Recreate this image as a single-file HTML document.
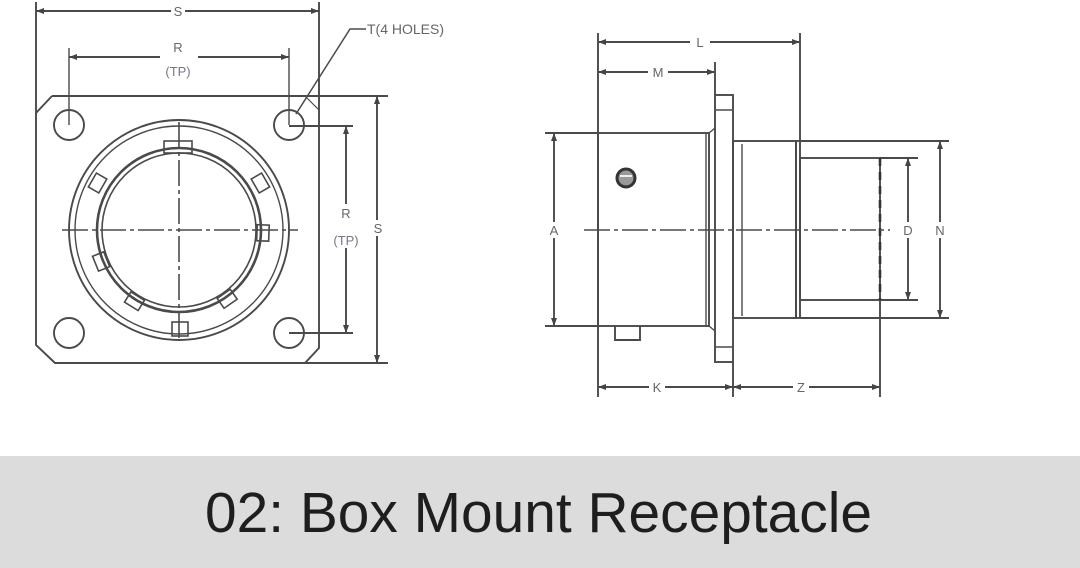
<!DOCTYPE html>
<html><head><meta charset="utf-8"><style>
html,body{margin:0;padding:0;background:#fff;}
svg{display:block;}
</style></head><body>
<svg width="1080" height="568" viewBox="0 0 1080 568" xmlns="http://www.w3.org/2000/svg">
<defs>
<marker id="ar" markerWidth="8" markerHeight="6" refX="8" refY="3" orient="auto-start-reverse" markerUnits="userSpaceOnUse">
<path d="M0,0 L8,3 L0,6 z" fill="#444"/></marker>
</defs>
<rect x="0" y="0" width="1080" height="456" fill="#fff"/>
<g stroke="#4a4a4a" stroke-width="1.9" fill="none">
<!-- LEFT VIEW -->
<path d="M52,96 L388,96"/>
<path d="M36,2 L36,113 L52,96"/>
<path d="M36,113 L36,345 L55,363 L305,363 L319,348 L319,2"/>
<path d="M305,96 L319,110" stroke-width="1.2"/>
<line x1="295" y1="363" x2="388" y2="363"/>
<line x1="36" y1="11" x2="319" y2="11" marker-start="url(#ar)" marker-end="url(#ar)"/>
<line x1="69" y1="57" x2="289" y2="57" marker-start="url(#ar)" marker-end="url(#ar)"/>
<line x1="69" y1="48" x2="69" y2="125" stroke-width="1.4"/>
<line x1="289" y1="48" x2="289" y2="125" stroke-width="1.4"/>
<line x1="377" y1="96" x2="377" y2="363" marker-start="url(#ar)" marker-end="url(#ar)"/>
<line x1="346" y1="126" x2="346" y2="333" marker-start="url(#ar)" marker-end="url(#ar)"/>
<line x1="289" y1="126" x2="353" y2="126"/>
<line x1="289" y1="333" x2="353" y2="333"/>
<circle cx="69" cy="125" r="15"/><circle cx="289" cy="125" r="15"/>
<circle cx="69" cy="333" r="15"/><circle cx="289" cy="333" r="15"/>
<path d="M296,114 L350,29 L366,29" stroke-width="1.5"/>
<circle cx="179" cy="230" r="110"/>
<circle cx="179" cy="230" r="104" stroke-width="1.4"/>
<circle cx="179" cy="230" r="82" stroke-width="2.6"/>
<circle cx="179" cy="230" r="77" stroke-width="1.6"/>
<g stroke-width="1.6">
<rect x="164" y="141" width="28" height="12"/>
<rect x="172" y="322" width="16" height="14"/>
<rect x="171" y="130" width="16" height="12" transform="rotate(60 179 230)"/>
<rect x="171" y="130" width="16" height="12" transform="rotate(-60 179 230)"/>
<rect x="171" y="140" width="16" height="12" transform="rotate(92 179 230)"/>
<rect x="171" y="140" width="16" height="12" transform="rotate(-112 179 230)"/>
<rect x="171" y="140" width="16" height="12" transform="rotate(145 179 230)"/>
<rect x="171" y="140" width="16" height="12" transform="rotate(-148 179 230)"/>
</g>
<line x1="62" y1="230" x2="298" y2="230" stroke-dasharray="26,4,4,4" stroke-width="1.6"/>
<line x1="179" y1="122" x2="179" y2="342" stroke-dasharray="26,4,4,4" stroke-width="1.6"/>

<!-- RIGHT VIEW -->
<line x1="598" y1="33" x2="598" y2="397"/>
<line x1="800" y1="33" x2="800" y2="141"/>
<line x1="598" y1="42" x2="800" y2="42" marker-start="url(#ar)" marker-end="url(#ar)"/>
<line x1="598" y1="72" x2="715" y2="72" marker-start="url(#ar)" marker-end="url(#ar)"/>
<line x1="715" y1="62" x2="715" y2="95"/>
<rect x="598" y="133" width="111" height="193"/>
<line x1="706" y1="133" x2="706" y2="326" stroke-width="1.4"/>
<rect x="715" y="95" width="18" height="267"/>
<line x1="715" y1="110" x2="733" y2="110" stroke-width="1.4"/>
<line x1="715" y1="347" x2="733" y2="347" stroke-width="1.4"/>
<line x1="709" y1="133" x2="715" y2="128" stroke-width="1.4"/>
<line x1="709" y1="326" x2="715" y2="331" stroke-width="1.4"/>
<rect x="733" y="141" width="63" height="177"/>
<line x1="742" y1="144" x2="742" y2="316" stroke-width="1.4"/>
<rect x="796" y="141" width="4" height="177"/>
<rect x="800" y="158" width="80" height="142"/>
<line x1="800" y1="141" x2="949" y2="141"/>
<line x1="800" y1="318" x2="949" y2="318"/>
<line x1="880" y1="158" x2="918" y2="158"/>
<line x1="880" y1="300" x2="918" y2="300"/>
<line x1="880" y1="158" x2="880" y2="300" stroke-width="2.6" stroke-dasharray="8,6" stroke="#333"/>
<line x1="880" y1="300" x2="880" y2="397"/>
<line x1="733" y1="362" x2="733" y2="397"/>
<line x1="545" y1="133" x2="598" y2="133"/>
<line x1="545" y1="326" x2="598" y2="326"/>
<line x1="554" y1="133" x2="554" y2="326" marker-start="url(#ar)" marker-end="url(#ar)"/>
<line x1="908" y1="158" x2="908" y2="300" marker-start="url(#ar)" marker-end="url(#ar)"/>
<line x1="940" y1="141" x2="940" y2="318" marker-start="url(#ar)" marker-end="url(#ar)"/>
<line x1="598" y1="387" x2="733" y2="387" marker-start="url(#ar)" marker-end="url(#ar)"/>
<line x1="733" y1="387" x2="880" y2="387" marker-start="url(#ar)" marker-end="url(#ar)"/>
<circle cx="626" cy="178" r="9" stroke-width="3" stroke="#333" fill="#999"/>
<path d="M620,176 h12" stroke-width="2" stroke="#eee"/>
<path d="M615,326 v14 h25 v-14"/>
<line x1="584" y1="230" x2="890" y2="230" stroke-dasharray="26,4,4,4" stroke-width="1.6"/>
</g>
<g font-family="'Liberation Sans',sans-serif" font-size="13" fill="#666" text-anchor="middle">
<rect x="171" y="4" width="14" height="14" fill="#fff"/><text x="178" y="16">S</text>
<rect x="160" y="40" width="38" height="36" fill="#fff"/>
<text x="178" y="52">R</text><text x="178" y="76" fill="#778">(TP)</text>
<rect x="330" y="204" width="32" height="44" fill="#fff"/>
<text x="346" y="218">R</text><text x="346" y="245" fill="#778">(TP)</text>
<rect x="371" y="220" width="12" height="16" fill="#fff"/><text x="378" y="233">S</text>
<text x="367" y="34" text-anchor="start" font-size="14">T(4 HOLES)</text>
<rect x="690" y="36" width="20" height="14" fill="#fff"/><text x="700" y="47">L</text>
<rect x="648" y="66" width="20" height="14" fill="#fff"/><text x="658" y="77">M</text>
<rect x="546" y="222" width="16" height="16" fill="#fff"/><text x="554" y="235">A</text>
<rect x="900" y="222" width="16" height="16" fill="#fff"/><text x="908" y="235">D</text>
<rect x="932" y="222" width="16" height="16" fill="#fff"/><text x="940" y="235">N</text>
<rect x="649" y="381" width="16" height="14" fill="#fff"/><text x="657" y="392">K</text>
<rect x="793" y="381" width="16" height="14" fill="#fff"/><text x="801" y="392">Z</text>
</g>
<rect x="0" y="456" width="1080" height="112" fill="#dcdcdc"/>
<text x="205" y="532" font-family="'Liberation Sans',sans-serif" font-size="57" fill="#1e1e1e" textLength="667" lengthAdjust="spacingAndGlyphs">02: Box Mount Receptacle</text>
</svg>
</body></html>
